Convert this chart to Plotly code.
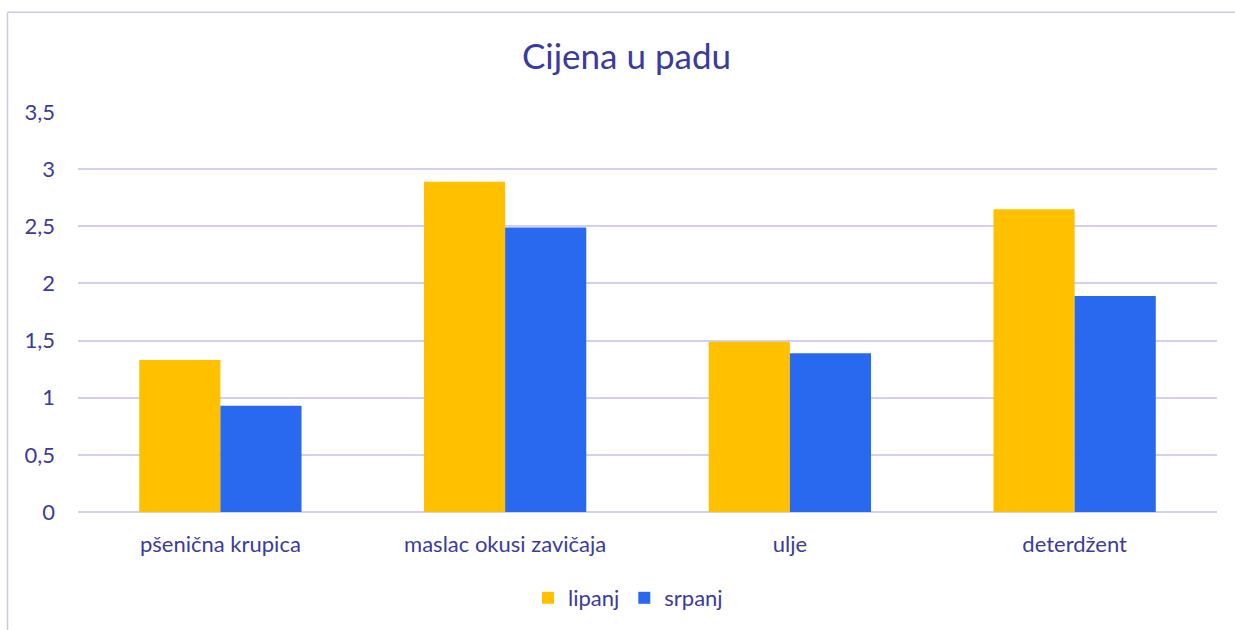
import plotly.graph_objects as go

categories = ["pšenična krupica", "maslac okusi zavičaja", "ulje", "deterdžent"]
lipanj = [1.33, 2.89, 1.49, 2.65]
srpanj = [0.93, 2.49, 1.39, 1.89]
series_names = ["lipanj", "srpanj"]
tick_vals = [0, 0.5, 1, 1.5, 2, 2.5, 3, 3.5]

txt = "#3b3b9e"
grid = "#d2d0f0"
border = "#cbc9ee"
font_family = "Lato, 'Open Sans', sans-serif"

L, T = 78, 112
PW, PH = 1139, 401

fig = go.Figure()
fig.add_trace(go.Bar(x=categories, y=lipanj, name=series_names[0], marker=dict(color="#FFC000", line=dict(width=0))))
fig.add_trace(go.Bar(x=categories, y=srpanj, name=series_names[1], marker=dict(color="#2969F0", line=dict(width=0))))

bx = (7.5 - L) / PW
by = (T + PH - 12) / PH

fig.update_layout(
    width=1235, height=630,
    margin=dict(l=L, r=1235 - L - PW, t=T, b=630 - T - PH),
    paper_bgcolor="white", plot_bgcolor="white",
    separators=", ",
    barmode="group", bargap=0.43, bargroupgap=0,
    font=dict(family=font_family, color=txt, size=22),
    title=dict(text="Cijena u padu", x=626.5 / 1235, xanchor="center", y=1 - 57 / 630, yanchor="middle",
               font=dict(size=35, color=txt, family=font_family)),
    showlegend=True,
    legend=dict(orientation="h", x=(628 - L) / PW, xanchor="center", y=(T + PH - 598) / PH, yanchor="middle",
                font=dict(size=22, color=txt), traceorder="normal", itemwidth=30),
    xaxis=dict(showgrid=False, showline=False, ticks="", ticklabelstandoff=17,
               tickfont=dict(size=22, color=txt)),
    yaxis=dict(range=[0, 3.5], tickvals=tick_vals, showgrid=True, gridcolor=grid, gridwidth=1.5,
               zeroline=True, zerolinecolor=grid, zerolinewidth=1.5, showline=False,
               ticks="", ticklabelstandoff=22, tickfont=dict(size=22, color=txt)),
    shapes=[
        dict(type="line", xref="paper", yref="paper", x0=bx, x1=1.2, y0=by, y1=by,
             line=dict(color=border, width=1.5), layer="below"),
        dict(type="line", xref="paper", yref="paper", x0=bx, x1=bx, y0=-0.5, y1=by,
             line=dict(color=border, width=1.5), layer="below"),
    ],
)

fig.write_html(
    "out.html",
    config={"displayModeBar": False},
    post_script="document.body.style.margin='0';document.body.style.overflow='hidden';",
)
